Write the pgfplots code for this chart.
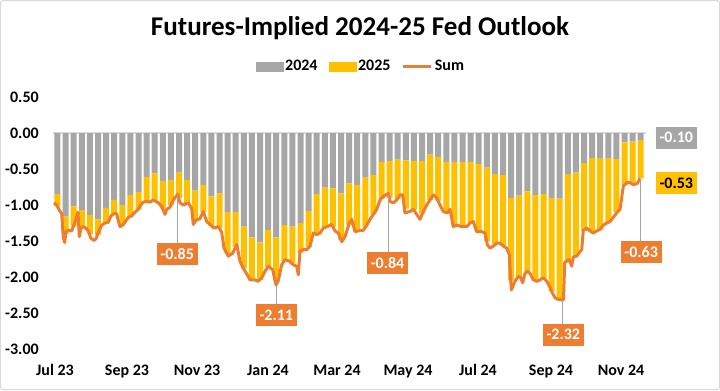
\documentclass[border=0pt]{standalone}
\usepackage{fontspec}
\setmainfont{Carlito}
\usepackage{pgfplots}
\pgfplotsset{compat=1.18}
\usepackage{pgfplotstable}
\definecolor{cgray}{HTML}{A6A6A6}
\definecolor{cgold}{HTML}{FFC000}
\definecolor{corange}{HTML}{ED7D31}
\definecolor{cborder}{HTML}{D9D9D9}
\tikzset{lbl/.style={inner sep=0pt, minimum width=30.75pt, minimum height=16.5pt,
    font=\fontsize{12}{14}\selectfont\bfseries}}

% weekly bars: x position, 2024 contribution, sum (2024+2025)
\pgfplotstableread{
x y2024 sum
57.5 -0.85 -1.02
65.6 -1.16 -1.40
73.7 -1.02 -1.30
81.8 -1.07 -1.32
89.9 -1.14 -1.40
98.0 -1.20 -1.42
106.1 -1.04 -1.25
114.2 -0.93 -1.13
122.3 -1.00 -1.27
130.4 -0.86 -1.16
138.5 -0.82 -1.06
146.6 -0.61 -0.95
154.7 -0.56 -0.95
162.8 -0.67 -1.05
170.9 -0.65 -1.00
179.0 -0.55 -0.90
187.1 -0.65 -0.98
195.2 -0.80 -1.22
203.3 -0.72 -1.10
211.4 -0.88 -1.29
219.5 -0.84 -1.32
227.6 -1.10 -1.68
235.7 -1.10 -1.58
243.8 -1.30 -1.88
251.9 -1.45 -2.04
260.0 -1.52 -2.04
268.1 -1.35 -1.86
276.2 -1.45 -2.05
284.3 -1.28 -1.78
292.4 -1.30 -1.81
300.5 -1.25 -1.66
308.6 -1.08 -1.58
316.7 -0.85 -1.40
324.8 -0.76 -1.31
332.9 -0.77 -1.30
341.0 -0.84 -1.48
349.1 -0.70 -1.28
357.2 -0.72 -1.36
365.3 -0.62 -1.30
373.4 -0.58 -1.13
381.5 -0.40 -0.92
389.6 -0.39 -0.90
397.7 -0.37 -0.92
405.8 -0.38 -1.05
413.9 -0.39 -1.07
422.0 -0.39 -1.12
430.1 -0.30 -0.93
438.2 -0.33 -0.94
446.3 -0.40 -1.10
454.4 -0.40 -1.29
462.5 -0.40 -1.30
470.6 -0.40 -1.25
478.7 -0.43 -1.37
486.8 -0.48 -1.50
494.9 -0.57 -1.55
503.0 -0.58 -1.56
511.1 -0.90 -2.05
519.2 -0.87 -2.00
527.3 -0.81 -1.93
535.4 -0.86 -2.05
543.5 -0.85 -2.02
551.6 -0.90 -2.20
559.7 -0.91 -2.32
567.8 -0.57 -1.78
575.9 -0.55 -1.71
584.0 -0.42 -1.36
592.1 -0.35 -1.37
600.2 -0.35 -1.34
608.3 -0.35 -1.24
616.4 -0.36 -1.10
624.5 -0.13 -0.72
632.6 -0.12 -0.70
640.7 -0.10 -0.63
}\bars

\pgfplotstableread{
x sum
54 -0.97
56.7 -1.00
59.3 -1.07
61.7 -1.12
63.3 -1.45
64.7 -1.52
66 -1.37
68.3 -1.35
71.7 -1.36
73.3 -1.30
75 -1.24
78 -1.10
79.3 -1.44
81 -1.32
83.3 -1.30
86.7 -1.33
89 -1.38
90.7 -1.46
94 -1.49
96 -1.47
98.3 -1.38
101.7 -1.28
105 -1.25
108.3 -1.24
111 -1.15
114 -1.12
116.7 -1.12
118.3 -1.22
120 -1.30
122.7 -1.28
126 -1.22
128.3 -1.17
131.7 -1.15
135 -1.10
138.3 -1.06
140.7 -1.00
143.3 -0.96
146.7 -0.95
150 -0.96
153.3 -0.93
158.3 -0.97
161.7 -1.02
165 -1.13
166.7 -1.06
170 -1.03
173.3 -0.93
177.7 -0.85
180 -0.97
183.3 -1.00
188.3 -0.97
191.7 -1.05
193.3 -1.27
196 -1.21
200 -1.19
203.3 -1.09
206.7 -1.23
210 -1.27
214 -1.32
218.3 -1.30
221.7 -1.38
224 -1.60
228.3 -1.71
232.7 -1.67
236.7 -1.55
240 -1.78
243.3 -1.88
247.3 -1.97
250 -2.04
255 -2.04
258.3 -2.06
261.7 -2.01
265 -1.92
268.3 -1.85
272.7 -1.90
276 -2.11
278.3 -2.05
281.7 -1.83
285 -1.76
289.3 -1.78
293.3 -1.83
296.7 -1.85
298.3 -1.97
300 -1.64
303.3 -1.62
306.7 -1.62
310 -1.57
313.3 -1.39
316.7 -1.41
320 -1.39
323.3 -1.32
327.3 -1.30
331.7 -1.27
335 -1.36
338.3 -1.39
341.7 -1.51
345 -1.44
349.3 -1.25
351.7 -1.20
355 -1.37
358.3 -1.36
363.3 -1.35
366.7 -1.28
370 -1.20
373.3 -1.13
376.7 -1.06
380 -0.93
383.3 -0.88
388.3 -0.84
390 -0.95
393.3 -0.97
396.7 -0.93
400 -0.86
402.7 -0.86
405 -1.11
410 -1.09
413.3 -1.06
416.7 -1.13
420 -1.20
423.3 -1.09
426.7 -1.00
430 -0.93
433.3 -0.86
436.7 -0.90
440 -1.00
443.3 -1.09
447.3 -1.11
450 -1.06
453.3 -1.30
456.7 -1.28
461.7 -1.30
466.7 -1.30
470 -1.25
473.3 -1.23
476.7 -1.37
481.7 -1.37
485 -1.39
487.3 -1.55
490 -1.60
493.3 -1.57
496.7 -1.53
500 -1.53
503.3 -1.57
506.7 -1.60
509.3 -1.69
511.3 -2.18
515 -2.06
518.3 -1.99
520.7 -2.01
522.7 -2.08
525 -1.95
527.3 -1.92
530 -1.95
533.3 -2.04
536.7 -2.06
540 -2.04
543.3 -2.01
546.7 -2.06
549.3 -2.12
551.7 -2.20
555 -2.29
558.3 -2.31
562.5 -2.32
563.5 -2.31
564.7 -1.80
566.7 -1.78
569.3 -1.76
571.7 -1.85
573.3 -1.72
576.7 -1.71
579.3 -1.66
581.7 -1.62
583.3 -1.35
586.7 -1.32
590 -1.36
593.3 -1.39
596.7 -1.36
600 -1.34
603.3 -1.28
606.7 -1.25
610 -1.23
613.3 -1.17
616.7 -1.11
620 -1.06
623.3 -0.74
626.7 -0.69
630 -0.69
633.3 -0.72
637.3 -0.70
640 -0.63
}\sumline

\begin{document}
\begin{tikzpicture}
\draw[cborder, line width=0.75pt, rounded corners=2pt] (0.375pt,-0.375pt) rectangle (539.625pt,-292.125pt);
\node[font=\fontsize{20.3}{24}\selectfont\bfseries, anchor=base, inner sep=0pt] at (270pt,-26.25pt) {Futures-Implied 2024-25 Fed Outlook};
\begin{axis}[
  at={(39.75pt,-261.75pt)}, anchor=south west,
  scale only axis, width=444.75pt, height=189pt,
  xmin=53, xmax=646, ymin=-3, ymax=0.5,
  clip=false,
  axis line style={draw=none},
  major tick length=0pt,
  tick style={draw=none},
  every tick label/.append style={font=\fontsize{12}{14}\selectfont\bfseries},
  ytick={-3,-2.5,-2,-1.5,-1,-0.5,0,0.5},
  yticklabels={-3.00,-2.50,-2.00,-1.50,-1.00,-0.50,0.00,0.50},
  yticklabel style={anchor=east, inner sep=0pt, xshift=-10.5pt},
  xtick={55,127,197,268,337,408,478,551,621},
  xticklabels={Jul 23,Sep 23,Nov 23,Jan 24,Mar 24,May 24,Jul 24,Sep 24,Nov 24},
  xticklabel style={anchor=north, inner sep=0pt, yshift=-11.5pt},
  extra y ticks={0},
  extra y tick labels={},
  extra y tick style={grid=major, major grid style={draw=cborder, line width=1.1pt}},
  legend style={at={(0.5194,1.1202)}, anchor=center, draw=none, fill=none,
    font=\fontsize{12}{14}\selectfont\bfseries, inner sep=0pt,
    nodes={inner sep=1.5pt},
    /tikz/every even column/.append style={column sep=7pt}},
  legend columns=3,
]
\addlegendimage{legend image code/.code={\fill[cgray] (0pt,-3.1pt) rectangle (20pt,3.1pt);}}
\addlegendentry{2024}
\addlegendimage{legend image code/.code={\fill[cgold] (0pt,-3.1pt) rectangle (20pt,3.1pt);}}
\addlegendentry{2025}
\addlegendimage{legend image code/.code={\draw[corange, line width=2.25pt] (0pt,0pt) -- (21pt,0pt);}}
\addlegendentry{Sum}

\addplot[ybar stacked, bar width=6.0, bar shift=0pt, fill=cgray, draw=none, forget plot] table[x=x, y=y2024] {\bars};
\addplot[ybar stacked, bar width=6.0, bar shift=0pt, fill=cgold, draw=none, forget plot] table[x=x, y expr=\thisrow{sum}-\thisrow{y2024}] {\bars};
\addplot[stack plots=false, corange, line width=2.25pt, line join=round, mark=none, forget plot] table[x=x, y=sum] {\sumline};

% leader lines
\draw[cgray, line width=0.75pt] (axis cs:177.7,-0.87) -- (axis cs:177.7,-1.55);
\draw[cgray, line width=0.75pt] (axis cs:276,-2.13) -- (axis cs:276,-2.40);
\draw[cgray, line width=0.75pt] (axis cs:388.3,-0.86) -- (axis cs:388.3,-1.70);
\draw[cgray, line width=0.75pt] (axis cs:562.5,-2.34) -- (axis cs:562.5,-2.68);
\draw[cgray, line width=0.75pt] (axis cs:640,-0.65) -- (axis cs:640,-1.53);
% data labels
\node[lbl, fill=corange, text=white] at (axis cs:177.2,-1.676) {-0.85};
\node[lbl, fill=corange, text=white] at (axis cs:276.3,-2.528) {-2.11};
\node[lbl, fill=corange, text=white] at (axis cs:387.5,-1.81) {-0.84};
\node[lbl, fill=corange, text=white] at (axis cs:563.3,-2.799) {-2.32};
\node[lbl, fill=corange, text=white] at (axis cs:641.2,-1.649) {-0.63};
\node[lbl, fill=cgray, text=white] at (axis cs:676.3,-0.0625) {-0.10};
\node[lbl, fill=cgold, text=black] at (axis cs:676.3,-0.699) {-0.53};
\end{axis}
\end{tikzpicture}
\end{document}
